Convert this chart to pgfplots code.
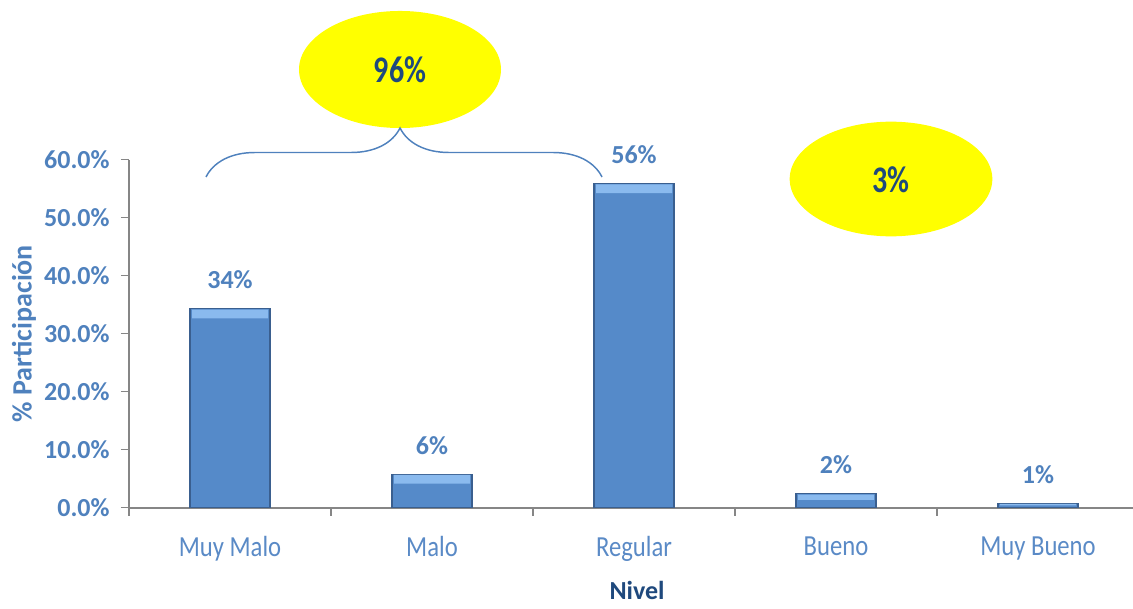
\documentclass[border=0pt]{standalone}
\usepackage{pgfplots}
\pgfplotsset{compat=1.18}
\usepackage{pgfplotstable}
\usepackage{fontspec}
\setmainfont{Carlito}
\usetikzlibrary{decorations.pathreplacing}
\definecolor{labblue}{RGB}{79,129,189}
\definecolor{xlabblue}{RGB}{90,138,198}
\definecolor{navy}{RGB}{31,73,125}
\definecolor{barblue}{RGB}{85,138,201}
\definecolor{bardark}{RGB}{58,95,143}
\definecolor{barlight}{RGB}{138,186,238}
\definecolor{axisgray}{RGB}{134,134,134}
\definecolor{ylw}{RGB}{255,255,0}
% totals and labels
\pgfplotstableread{
x val meta
0 34.3 34
1 5.8  6
2 55.9 56
3 2.4  2
4 0.8  1
}\datatab
% highlight band (invisible base + light band) for the bevel look
\pgfplotstableread{
x base top
0 32.65 1.5
1 4.15  1.5
2 54.25 1.5
3 1.35  0.9
4 0.4   0.25
}\hitab
\pgfplotsset{common/.style={
  at={(96.75pt,75.225pt)}, anchor=south west,
  scale only axis, width=757.5pt, height=261pt,
  xmin=-0.5, xmax=4.5, ymin=0, ymax=60,
  clip=false}}
\newcommand{\tl}[1]{\scalebox{1}[1.18]{#1}}
\begin{document}
\begin{tikzpicture}
\path[use as bounding box] (0,0) rectangle (849.75pt,456pt);
\begin{axis}[
  common,
  ybar, bar width=60pt,
  axis x line*=bottom, axis y line*=left,
  axis line style={draw=axisgray, line width=1.3pt},
  tick style={draw=axisgray, line width=1pt},
  tick align=outside, major tick length=6pt,
  xtick={-0.5,0.5,1.5,2.5,3.5,4.5},
  xticklabels={},
  extra x ticks={0,1,2,3,4},
  extra x tick labels={\tl{Muy Malo},\tl{Malo},\tl{Regular},\tl{Bueno},\tl{Muy Bueno}},
  extra x tick style={major tick length=0pt,
     xticklabel style={font=\fontsize{18.5}{22}\selectfont, text=xlabblue, anchor=north, yshift=-18pt}},
  ytick={0,10,...,60},
  yticklabels={0.0\%,10.0\%,20.0\%,30.0\%,40.0\%,50.0\%,60.0\%},
  yticklabel style={font=\fontsize{19.5}{23}\selectfont\bfseries, text=labblue, anchor=east, xshift=-5pt},
  /pgf/number format/assume math mode=true,
  xlabel={\textbf{Nivel}},
  xlabel style={font=\fontsize{19.5}{23}\selectfont, text=navy, at={(axis description cs:0.503,-0.2365)}, anchor=center},
  ylabel={\textbf{\% Participación}},
  ylabel style={font=\fontsize{21}{25}\selectfont, text=labblue, at={(axis description cs:-0.104,0.5)}, anchor=center},
]
\addplot[fill=barblue, draw=bardark, line width=0.8pt,
  point meta=explicit,
  nodes near coords={\textbf{\pgfmathprintnumber{\pgfplotspointmeta}\%}},
  nodes near coords style={font=\fontsize{19.5}{23}\selectfont, text=labblue, anchor=south, yshift=11pt}]
  table[x=x, y=val, meta=meta] {\datatab};
\end{axis}
\begin{axis}[common, hide axis, ybar stacked, bar width=57pt]
\addplot[draw=none, fill=none] table[x=x, y=base] {\hitab};
\addplot[draw=none, fill=barlight] table[x=x, y=top] {\hitab};
\end{axis}
% annotations
\fill[ylw] (300pt,403.875pt) ellipse [x radius=75.75pt, y radius=43.9pt];
\node[font=\fontsize{22.5}{26}\selectfont\bfseries, text=navy] at (300pt,403.5pt) {\scalebox{1}[1.25]{96\%}};
\fill[ylw] (668.25pt,321.75pt) ellipse [x radius=76pt, y radius=43pt];
\node[font=\fontsize{22.5}{26}\selectfont\bfseries, text=navy] at (668.25pt,321pt) {\scalebox{1}[1.25]{3\%}};
\draw[decorate, decoration={brace, amplitude=36.75pt, aspect=0.49}, draw=labblue, line width=1.1pt]
  (154.5pt,323.25pt) -- (451.5pt,323.25pt);
\end{tikzpicture}
\end{document}
